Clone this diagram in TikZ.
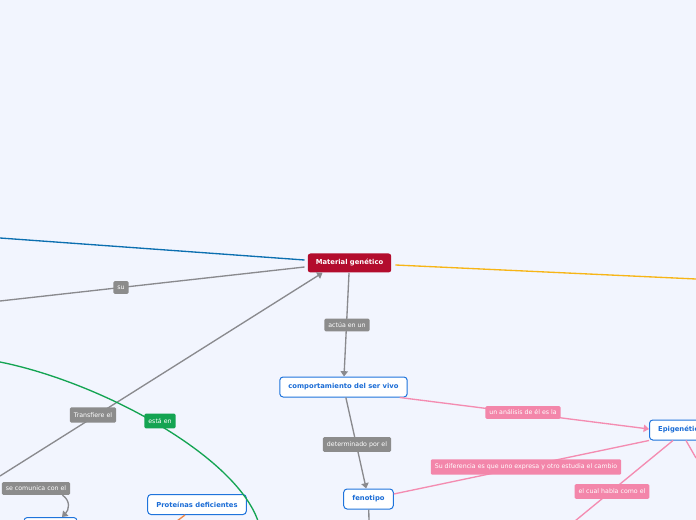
\documentclass[tikz,border=0pt]{standalone}
\usepackage{fontspec}
\setmainfont{DejaVu Sans}
\usetikzlibrary{arrows.meta,calc}
\definecolor{bgc}{HTML}{F2F5FE}
\definecolor{mainred}{HTML}{B30C2D}
\definecolor{blueb}{HTML}{1F74DC}
\definecolor{bluet}{HTML}{1A6CD6}
\definecolor{labgray}{HTML}{8C8C8C}
\definecolor{linegray}{HTML}{8A8A8E}
\definecolor{greenl}{HTML}{14A452}
\definecolor{pinkl}{HTML}{F386AA}
\definecolor{pinkline}{HTML}{F48CB1}
\definecolor{bluel}{HTML}{0B6FB0}
\definecolor{yellowl}{HTML}{F7B516}
\definecolor{orangel}{HTML}{F08A4B}
\tikzset{
  mainbox/.style={fill=mainred, text=white, rounded corners=2pt,
    font=\fontsize{5.1}{6}\selectfont\bfseries, minimum height=14.25pt,
    inner xsep=6pt, inner ysep=0pt},
  bluebox/.style={draw=blueb, line width=0.75pt, fill=white, text=bluet,
    rounded corners=2.5pt, font=\fontsize{5.1}{6}\selectfont\bfseries,
    minimum height=15pt, inner xsep=6.5pt, inner ysep=0pt},
  lab/.style={rounded corners=1pt, text=white,
    font=\fontsize{4.7}{5.5}\selectfont, inner xsep=3pt, inner ysep=0pt,
    minimum height=9.5pt},
  glab/.style={lab, fill=labgray},
  grlab/.style={lab, fill=greenl},
  plab/.style={lab, fill=pinkl},
  conn/.style={draw=linegray, line width=1pt},
  pconn/.style={draw=pinkline, line width=1pt},
  arr/.style={-{Triangle[width=5.5pt,length=4pt]}},
}
\begin{document}
\begin{tikzpicture}[x=0.75pt,y=-0.75pt]
\fill[bgc] (0,0) rectangle (696,520);
\useasboundingbox (0,0) rectangle (696,520);

% off-canvas ends
\coordinate (eblue) at (0,238);
\coordinate (esu) at (0,301);
\coordinate (eyel) at (696,279);
\coordinate (etrans) at (0,476);
\coordinate (egr1) at (0,362);
\coordinate (egr2) at (258,521);
\coordinate (efeno) at (369,521);
\coordinate (ecual) at (575,521);
\coordinate (eepi) at (696,458);
\coordinate (eora) at (177,521);

% nodes
\node[mainbox] (mat) at (349.5,263) {Material genético};
\node[bluebox] (comp) at (343.5,387) {comportamiento del ser vivo};
\node[bluebox] (feno) at (368.5,499) {fenotipo};
\node[bluebox] (prot) at (197,504.5) {Proteínas deficientes};
\node[bluebox, anchor=west] (epi) at (649,430) {Epigenética};
\node[bluebox, anchor=north, minimum width=39.75pt] (bl) at (50.5,517) {};

% connectors
\draw[bluel, line width=1pt] (eblue) -- ($(mat.west)+(-3,-3)$);
\draw[conn] (esu) -- ($(mat.west)+(-3,4)$);
\draw[yellowl, line width=1pt] ($(mat.east)+(4,2)$) -- (eyel);
\draw[conn, arr] (etrans) -- ($(mat.south west)+(15,0)$);
\draw[greenl, line width=1pt] (egr1) .. controls (100,382) and (235,455) .. (egr2);
\draw[conn, arr] (mat) -- (comp);
\draw[conn, arr] (comp) -- (feno);
\draw[conn] (feno) -- (efeno);
\draw[pconn, arr] ($(comp.south east)+(-8,0)$) -- ($(epi.west)+(0,-1)$);
\draw[pconn] (feno.east |- 0,494) -- ($(epi.south west)+(0,0)$);
\draw[pconn] ($(epi.south west)+(24,0)$) -- (ecual);
\draw[pconn] ($(epi.south west)+(37,0)$) -- (eepi);
\draw[orangel, line width=1pt] ($(prot.south)+(-12,0)$) -- (eora);

% labels
\node[glab] (lsu) at (121,287.5) {su};
\node[glab] (lact) at (347,325) {actúa en un};
\node[glab, minimum height=11.5pt] (ltrans) at (93,415) {Transfiere el};
\node[grlab, minimum height=11pt] (lest) at (160,421) {está en};
\node[glab] (lcom) at (36,488.5) {se comunica con el};
\node[glab, minimum height=11pt] (ldet) at (357,444.5) {determinado por el};
\node[plab] (lana) at (523,412.5) {un análisis de él es la};
\node[plab, minimum height=11.5pt] (ldif) at (526,467) {Su diferencia es que uno expresa y otro estudia el cambio};
\node[plab, minimum height=11pt] (lcual) at (612,491.5) {el cual habla como el};

\draw[conn, arr] ($(lcom.south east)+(-8,0)$) .. controls (71,501) and (69,510) .. (bl.north -| 62,0);
\end{tikzpicture}
\end{document}
